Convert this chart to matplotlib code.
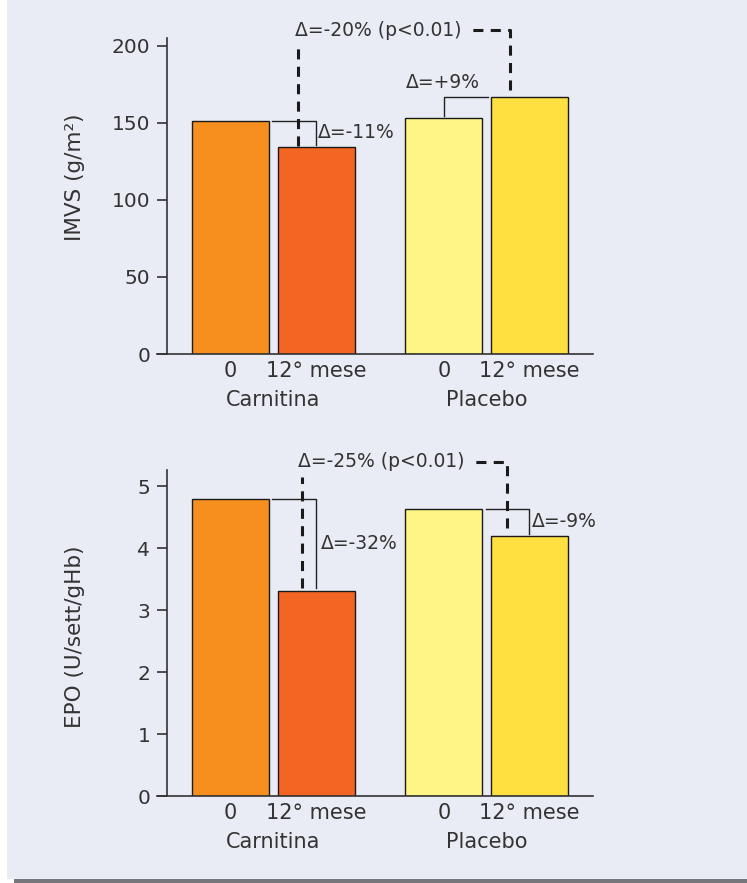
import matplotlib
matplotlib.use("Agg")
from matplotlib import pyplot as plt
from matplotlib.patches import Rectangle
import numpy as np

# data
groups = ["Carnitina", "Placebo"]
timepoints = ["0", "12° mese"]
imvs = [151, 134, 153, 167]
epo = [4.8, 3.3, 4.63, 4.2]
imvs_delta = ["\u0394=-11%", "\u0394=+9%"]
epo_delta = ["\u0394=-32%", "\u0394=-9%"]
imvs_diff = "\u0394=-20% (p<0.01)"
epo_diff = "\u0394=-25% (p<0.01)"
colors = ["#F78F1F", "#F26522", "#FFF587", "#FFE040"]

BG = "#E9ECF5"
TXT = "#333333"

plt.rcParams['font.family'] = ['DejaVu Sans']
plt.rcParams['text.color'] = TXT

fig = plt.figure(figsize=(7.47, 8.83), dpi=100)
fig.patch.set_facecolor("white")
W, H = 747, 883
fig.patches.append(Rectangle((7 / W, 4 / H), 1, 1, transform=fig.transFigure,
                             facecolor=BG, edgecolor="none", zorder=-10))
fig.patches.append(Rectangle((14 / W, 0), 1, 4 / H, transform=fig.transFigure,
                             facecolor="#77777B", edgecolor="none", zorder=-10))

group_centers = np.array([1.51, 4.28])
half = 0.555
xs = np.array([group_centers[0] - half, group_centers[0] + half,
               group_centers[1] - half, group_centers[1] + half])


def setup(ax, ylim, yticks, ylabel, label_y):
    ax.set_facecolor("none")
    ax.set_xlim(0, 5.66)
    ax.set_ylim(*ylim)
    for s in ["top", "right"]:
        ax.spines[s].set_visible(False)
    ax.spines["left"].set_position(("axes", 10 / 436))
    ax.spines["left"].set_bounds(0, ylim[1])
    for s in ["left", "bottom"]:
        ax.spines[s].set_color(TXT)
        ax.spines[s].set_linewidth(1.2)
    ax.set_yticks(yticks)
    ax.tick_params(axis="y", length=7, width=1.2, color=TXT, labelsize=14.5,
                   labelcolor=TXT, pad=5)
    ax.set_xticks(xs)
    ax.set_xticklabels(timepoints * 2)
    ax.tick_params(axis="x", length=0, labelsize=15, labelcolor=TXT, pad=5)
    ax.set_ylabel(ylabel, fontsize=15.5, color=TXT)
    ax.yaxis.set_label_coords(-0.165, label_y)
    for gc, g in zip(group_centers, groups):
        ax.annotate(g, xy=(gc, 0), xycoords=("data", "axes fraction"),
                    xytext=(0, -33), textcoords="offset points",
                    ha="center", va="center", fontsize=15, color=TXT)


def bars(ax, vals):
    ax.bar(xs, vals, width=1.0, color=colors, edgecolor="#1a1a1a",
           linewidth=1.0, zorder=2)


def connector(ax, pts):
    x, y = zip(*pts)
    ax.plot(x, y, color="#222222", lw=1.0, zorder=3, clip_on=False)


def dashed(ax, pts):
    x, y = zip(*pts)
    ax.plot(x, y, color="#1a1a1a", lw=2.2, dashes=(3.3, 2.4), zorder=4,
            clip_on=False, dash_capstyle="butt")


# top panel
ax1 = fig.add_axes([157 / W, 529 / H, 436 / W, 316 / H])
setup(ax1, (0, 205), [0, 50, 100, 150, 200], "IMVS (g/m\u00b2)", 0.56)
bars(ax1, imvs)
e = 0.04
connector(ax1, [(xs[0] + 0.5 + e, imvs[0]), (xs[1], imvs[0]), (xs[1], imvs[1] + 1.5)])
ax1.text(xs[1] + 0.02, (imvs[0] + imvs[1]) / 2 + 1, imvs_delta[0], fontsize=13.5,
         ha="left", va="center")
connector(ax1, [(xs[2], imvs[2] + 1.5), (xs[2], imvs[3]), (xs[3] - 0.5 - e, imvs[3])])
ax1.text(xs[2] - 0.5, imvs[3] + 9, imvs_delta[1], fontsize=13.5, ha="left", va="center")
dashed(ax1, [(1.83, imvs[1] + 1), (1.83, 202)])
ax1.text(1.79, 210, imvs_diff, fontsize=13.5, ha="left", va="center")
dashed(ax1, [(4.58, imvs[3] + 4), (4.58, 210), (4.08, 210)])

# bottom panel
ax2 = fig.add_axes([157 / W, 87 / H, 436 / W, 326 / H])
setup(ax2, (0, 5.26), [0, 1, 2, 3, 4, 5], "EPO (U/sett/gHb)", 0.49)
bars(ax2, epo)
connector(ax2, [(xs[0] + 0.5 + e, epo[0]), (xs[1], epo[0]), (xs[1], epo[1] + 0.05)])
ax2.text(xs[1] + 0.06, (epo[0] + epo[1]) / 2 + 0.03, epo_delta[0], fontsize=13.5,
         ha="left", va="center")
connector(ax2, [(xs[2] + 0.5 + e, epo[2]), (xs[3], epo[2]), (xs[3], epo[3] + 0.03)])
ax2.text(xs[3] + 0.03, (epo[2] + epo[3]) / 2 + 0.01, epo_delta[1], fontsize=13.5,
         ha="left", va="center")
dashed(ax2, [(1.88, epo[1] + 0.05), (1.88, 5.15)])
ax2.text(1.83, 5.39, epo_diff, fontsize=13.5, ha="left", va="center")
dashed(ax2, [(4.545, 4.32), (4.545, 5.39), (4.11, 5.39)])

fig.savefig("out.png", dpi=100, facecolor=fig.get_facecolor())
